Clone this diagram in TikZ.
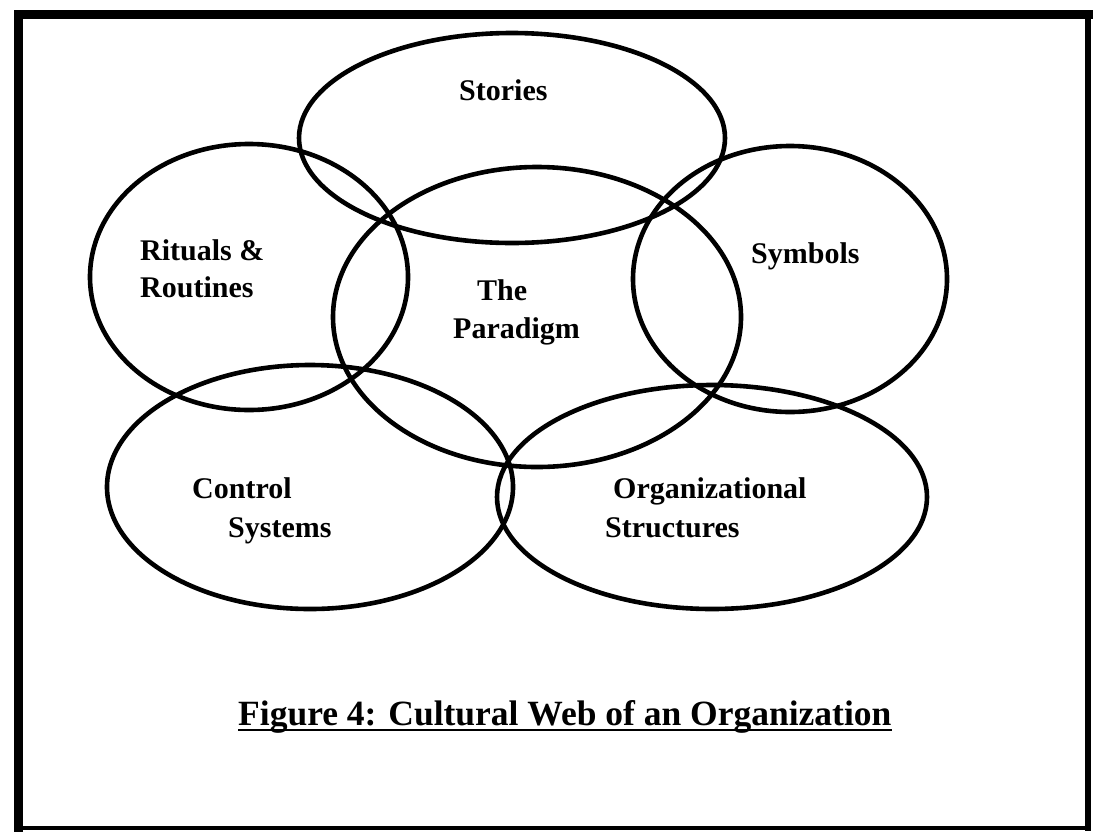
\documentclass[tikz,border=0pt]{standalone}
\usepackage{fontspec}
\setmainfont{Liberation Serif}
\begin{document}
\begin{tikzpicture}[x=1pt,y=-1pt,
  ring/.style={draw=black,line width=4.6pt},
  lbl/.style={anchor=base west,inner sep=0pt,font=\bfseries\fontsize{30}{36}\selectfont},
  frameline/.style={draw=black,line cap=rect}]
\useasboundingbox (0,0) rectangle (1094,831);
% frame
\draw[frameline,line width=9pt] (18,828) -- (18,14) -- (1088,14);
\draw[frameline,line width=6pt] (1088,14) -- (1088,828);
\draw[frameline,line width=4pt] (18,828) -- (1088,828);
% ellipses
\draw[ring] (512,138) ellipse [x radius=213, y radius=105];
\draw[ring] (249,277) ellipse [x radius=159, y radius=133];
\draw[ring] (537,317) ellipse [x radius=204, y radius=150];
\draw[ring] (790,279) ellipse [x radius=157, y radius=133];
\draw[ring] (310,487) ellipse [x radius=203, y radius=122];
\draw[ring] (712,497) ellipse [x radius=215, y radius=112];
% labels
\node[lbl] (stories) at (459,100) {Stories};
\node[lbl] (rit1) at (140,260) {Rituals \&};
\node[lbl] (rit2) at (140,297) {Routines};
\node[lbl] (par1) at (477,300) {The};
\node[lbl] (par2) at (453,338) {Paradigm};
\node[lbl] (sym) at (751,263) {Symbols};
\node[lbl] (con1) at (192,498) {Control};
\node[lbl] (con2) at (228,537) {Systems};
\node[lbl] (org1) at (613,498) {Organizational};
\node[lbl] (org2) at (605,537) {Structures};
% caption
\node[anchor=base west,inner sep=0pt,font=\bfseries\fontsize{35.5}{42}\selectfont] (cap) at (238,725) {Figure 4: Cultural Web of an Organization};
\draw[line width=2pt] ([yshift=-5pt]cap.base west) -- ([yshift=-5pt]cap.base east);
\end{tikzpicture}
\end{document}
